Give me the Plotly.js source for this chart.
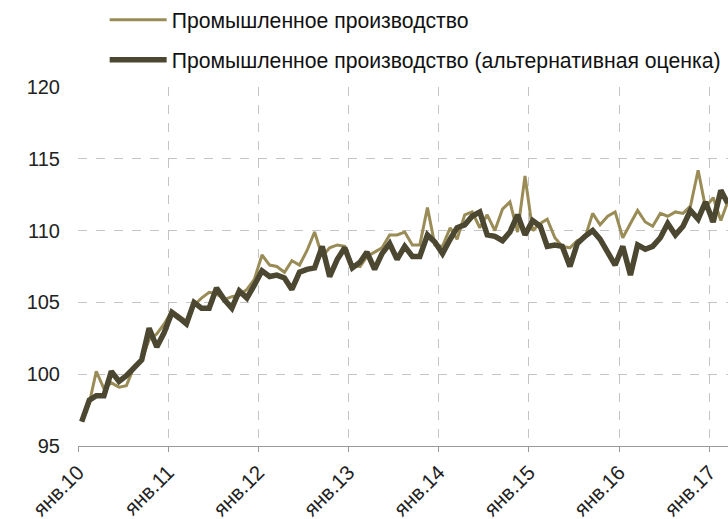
<!DOCTYPE html>
<html>
<head>
<meta charset="utf-8">
<script src="https://cdn.plot.ly/plotly-3.0.1.min.js"></script>
<style>html,body{margin:0;padding:0;background:#fff;}#chart{width:728px;height:519px;}</style>
</head>
<body>
<div id="chart"></div>
<script>
// Monthly index values, Jan 2010 .. Mar 2017
const industry = [
  96.7, 98.0, 100.2, 99.0, 99.4, 99.1, 99.2, 100.5, 101.0, 102.4, 102.8, 103.5,
  104.4, 104.0, 103.7, 104.8, 105.3, 105.7, 105.6, 105.2, 105.4, 105.5, 105.9, 106.6,
  108.3, 107.6, 107.5, 107.1, 107.9, 107.6, 108.6, 109.9, 108.2, 108.8, 109.0, 108.9,
  107.6, 107.5, 108.2, 108.5, 108.8, 109.7, 109.7, 109.9, 109.0, 109.0, 111.6, 109.0,
  108.9, 110.2, 109.4, 111.1, 111.3, 110.2, 111.1, 110.0, 111.5, 112.0, 109.9, 113.8,
  110.0, 110.5, 110.8, 109.5, 108.9, 108.8, 109.3, 109.5, 111.2, 110.4, 111.0, 111.3,
  109.5, 110.5, 111.4, 110.6, 110.3, 111.2, 111.0, 111.3, 111.2, 111.7, 114.2, 111.6,
  112.3, 110.7, 112.0
];
const industryAlt = [
  96.7, 98.2, 98.5, 98.5, 100.2, 99.5, 99.9, 100.4, 101.0, 103.2, 101.9, 102.9,
  104.3, 103.9, 103.5, 105.0, 104.6, 104.6, 106.0, 105.2, 104.6, 105.8, 105.3, 106.2,
  107.2, 106.8, 106.9, 106.7, 105.9, 107.1, 107.3, 107.4, 108.9, 106.8, 108.0, 108.8,
  107.4, 107.8, 108.5, 107.3, 108.4, 109.1, 108.0, 108.9, 108.2, 108.2, 109.7, 109.2,
  108.4, 109.4, 110.2, 110.4, 111.0, 111.3, 109.7, 109.6, 109.3, 109.9, 111.1, 109.7,
  110.7, 110.3, 108.9, 109.0, 108.9, 107.5, 109.1, 109.6, 110.0, 109.4, 108.4, 107.6,
  108.9, 106.9, 109.0, 108.7, 108.9, 109.5, 110.5, 109.7, 110.3, 111.4, 110.8, 112.0,
  110.6, 112.8, 111.9
];
const tickYears = [2010, 2011, 2012, 2013, 2014, 2015, 2016, 2017];
const tickLabels = ['янв.10', 'янв.11', 'янв.12', 'янв.13', 'янв.14', 'янв.15', 'янв.16', 'янв.17'];
const seriesNames = ['Промышленное производство', 'Промышленное производство (альтернативная оценка)'];

// month positions (mid-month) for each observation
const months = industry.map((_, i) => {
  const y = 2010 + Math.floor(i / 12);
  const m = (i % 12) + 1;
  return y + '-' + String(m).padStart(2, '0') + '-16';
});
const tickVals = tickYears.map(y => y + '-01-01');

const FONT = 'Liberation Sans, Arial, sans-serif';

const traces = [
  {
    x: months, y: industry, name: seriesNames[0], type: 'scatter', mode: 'lines',
    line: {color: '#9A8C56', width: 3}, legend: 'legend'
  },
  {
    x: months, y: industryAlt, name: seriesNames[1], type: 'scatter', mode: 'lines',
    line: {color: '#4C4731', width: 5.5}, legend: 'legend2'
  }
];

const layout = {
  width: 728, height: 519,
  margin: {l: 78, r: 0, t: 87, b: 73, autoexpand: false},
  paper_bgcolor: '#fff', plot_bgcolor: '#fff',
  font: {family: FONT, size: 20, color: '#111'},
  showlegend: true,
  legend: {
    x: 0.041, y: 1.187, xanchor: 'left', yanchor: 'middle',
    bgcolor: 'rgba(0,0,0,0)', font: {family: FONT, size: 21.2, color: '#111'},
    itemwidth: 57
  },
  legend2: {
    x: 0.041, y: 1.075, xanchor: 'left', yanchor: 'middle',
    bgcolor: 'rgba(0,0,0,0)', font: {family: FONT, size: 21.2, color: '#111'},
    itemwidth: 57
  },
  xaxis: {
    type: 'date',
    range: ['2010-01-01', '2017-03-17'],
    tickvals: tickVals, ticktext: tickLabels,
    tickangle: -45,
    tickfont: {family: FONT, size: 20.5, color: '#222'},
    ticks: 'outside', ticklen: 5, tickcolor: '#9a9a9a',
    showline: true, linecolor: '#9a9a9a', linewidth: 1.3,
    showgrid: true, gridcolor: '#c4c4c4', griddash: 'dash', gridwidth: 1,
    zeroline: false, fixedrange: true
  },
  yaxis: {
    range: [95, 120],
    tickvals: [95, 100, 105, 110, 115, 120],
    tickfont: {family: FONT, size: 20, color: '#222'},
    ticks: '', ticklabelstandoff: 17,
    showline: false,
    showgrid: true, gridcolor: '#c4c4c4', griddash: 'dash', gridwidth: 1,
    zeroline: false, fixedrange: true
  }
};

Plotly.newPlot('chart', traces, layout, {displayModeBar: false, staticPlot: true});
</script>
</body>
</html>
